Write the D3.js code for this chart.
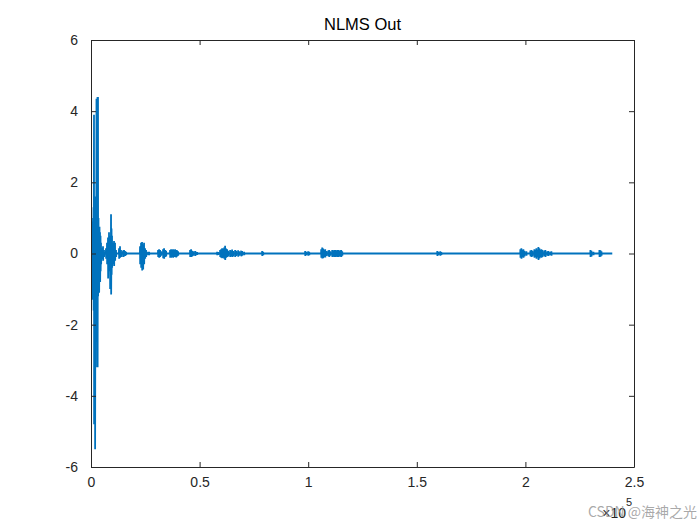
<!DOCTYPE html>
<html>
<head>
<meta charset="utf-8">
<script src="https://cdn.jsdelivr.net/npm/d3@7"></script>
<style>
  html, body { margin: 0; padding: 0; background: #ffffff; }
  svg { display: block; }
  text { font-family: "Liberation Sans", Arial, Helvetica, sans-serif; }
</style>
</head>
<body>
<svg id="chart" width="700" height="525"></svg>
<script>
// ---------------- data ----------------
const titleText = "NLMS Out";
const xTicks = [0, 50000, 100000, 150000, 200000, 250000];
const xTickLabels = ["0", "0.5", "1", "1.5", "2", "2.5"];
const yTicks = [-6, -4, -2, 0, 2, 4, 6];
const yTickLabels = ["-6", "-4", "-2", "0", "2", "4", "6"];
const signalLength = 240000;

// burst envelope samples: sample index, local max, local min
const spikeX = [
  230, 460, 690, 920, 1150, 1380, 1610, 1840, 2070, 2300, 2530, 2760, 2990, 3220, 3450, 3690, 3920, 4150, 4380, 4610, 5070, 5530, 5990,
  6910, 7370, 7830, 8290, 8750, 9220, 9450, 9680, 10140, 10600, 11060, 11520,
  12900, 13360, 13820, 14746, 15206, 15667, 16128,
  22579, 23040, 23501, 23962, 24422, 24883, 25344, 26266, 26726,
  30874, 31334, 31795, 32256, 33178, 33638, 34099, 34560,
  36403, 36864, 37325, 37786, 38246, 38707, 39168, 39629, 40090,
  45619, 46080, 46541, 47002, 47923, 48384, 48845,
  58061, 58522, 59443, 59904, 60365, 60826, 61286, 61747, 62208, 62669, 63130,
  64051, 64512, 64973, 65434, 66355, 66816, 67738, 68198, 69120, 69581, 70502,
  78797, 79258,
  98611, 99072, 99994, 100454,
  105984, 106445, 106906, 107366, 107827, 108288,
  109210, 109670, 110131, 111053, 111514, 111974, 112435, 112896, 113357, 113818, 114278, 114739, 115200, 115661,
  159437, 159898, 160819, 161280,
  197683, 198144, 198605, 199066, 199526, 200448,
  202291, 202752, 203213, 204134, 204595, 205056, 205517, 205978, 206438, 206899, 207360, 207821, 208742, 209203, 210125, 210586, 211507, 211968,
  229939, 230400, 231322, 234086, 234547, 235008
];
const spikeHi = [
  0.6, 0.9, 0.5, 1.0, 1.3, 3.9, 1.6, 1.5, 1.6, 1.6, 4.35, 1.5, 4.4, 4.4, 1.0, 0.7, 0.75, 0.6, 0.5, 0.3, 0.15, 0.2, 0.1,
  0.15, 0.3, 0.45, 0.6, 0.5, 1.1, 0.7, 0.5, 0.3, 0.35, 0.3, 0.1,
  0.15, 0.2, 0.1, 0.08, 0.1, 0.07, 0.05,
  0.2, 0.3, 0.32, 0.25, 0.3, 0.15, 0.1, 0.05, 0.05,
  0.1, 0.12, 0.1, 0.06, 0.12, 0.15, 0.1, 0.08,
  0.1, 0.12, 0.11, 0.12, 0.1, 0.12, 0.1, 0.09, 0.06,
  0.1, 0.12, 0.08, 0.06, 0.07, 0.05, 0.04,
  0.05, 0.04, 0.1, 0.12, 0.15, 0.13, 0.17, 0.22, 0.14, 0.12, 0.08,
  0.1, 0.08, 0.11, 0.07, 0.1, 0.08, 0.09, 0.06, 0.08, 0.07, 0.05,
  0.07, 0.05,
  0.07, 0.05, 0.06, 0.05,
  0.12, 0.17, 0.14, 0.1, 0.12, 0.07,
  0.08, 0.1, 0.06, 0.1, 0.08, 0.1, 0.1, 0.08, 0.1, 0.1, 0.08, 0.09, 0.1, 0.06,
  0.07, 0.05, 0.06, 0.04,
  0.12, 0.15, 0.1, 0.12, 0.08, 0.06,
  0.08, 0.1, 0.08, 0.12, 0.1, 0.15, 0.1, 0.18, 0.15, 0.1, 0.12, 0.1, 0.08, 0.1, 0.06, 0.07, 0.05, 0.06,
  0.1, 0.08, 0.05, 0.1, 0.09, 0.06
];
const spikeLo = [
  -0.5, -0.7, -1.3, -0.9, -1.6, -4.8, -2.7, -5.5, -1.6, -1.7, -1.6, -3.2, -3.2, -1.2, -1.0, -1.1, -0.6, -0.8, -0.5, -0.3, -0.15, -0.2, -0.1,
  -0.15, -0.3, -0.7, -0.5, -1.0, -1.15, -0.6, -0.4, -0.3, -0.35, -0.2, -0.1,
  -0.15, -0.12, -0.1, -0.1, -0.08, -0.07, -0.05,
  -0.3, -0.4, -0.48, -0.45, -0.3, -0.15, -0.1, -0.05, -0.05,
  -0.1, -0.12, -0.1, -0.06, -0.13, -0.15, -0.1, -0.08,
  -0.12, -0.12, -0.1, -0.12, -0.1, -0.1, -0.11, -0.08, -0.06,
  -0.1, -0.1, -0.08, -0.06, -0.07, -0.05, -0.04,
  -0.05, -0.04, -0.1, -0.12, -0.13, -0.12, -0.15, -0.18, -0.12, -0.1, -0.08,
  -0.1, -0.07, -0.1, -0.08, -0.1, -0.07, -0.09, -0.06, -0.08, -0.06, -0.05,
  -0.07, -0.05,
  -0.07, -0.05, -0.06, -0.05,
  -0.12, -0.14, -0.13, -0.1, -0.11, -0.07,
  -0.08, -0.1, -0.06, -0.1, -0.08, -0.1, -0.1, -0.08, -0.1, -0.1, -0.08, -0.09, -0.1, -0.06,
  -0.07, -0.05, -0.06, -0.04,
  -0.12, -0.15, -0.1, -0.12, -0.08, -0.06,
  -0.08, -0.1, -0.08, -0.12, -0.1, -0.15, -0.1, -0.18, -0.14, -0.1, -0.12, -0.1, -0.08, -0.1, -0.06, -0.07, -0.05, -0.06,
  -0.1, -0.08, -0.05, -0.1, -0.09, -0.06
];

// ---------------- layout ----------------
const W = 700, H = 525;
const margin = { left: 91, right: 66, top: 40, bottom: 58 };
const x0 = margin.left, x1 = W - margin.right;
const y0 = margin.top, y1 = H - margin.bottom;
const axisColor = "#262626";
const lineColor = "#0072BD";
const tickLen = 5;

const svg = d3.select("#chart");
svg.append("rect").attr("width", W).attr("height", H).attr("fill", "#ffffff");

const x = d3.scaleLinear().domain([0, 250000]).range([x0, x1]);
const y = d3.scaleLinear().domain([-6, 6]).range([y1, y0]);

// build waveform points: baseline between bursts, vertical excursions at spikes
const pts = [[0, 0]];
for (let i = 0; i < spikeX.length; i++) {
  const prev = i > 0 ? spikeX[i - 1] : 0;
  if (spikeX[i] - prev > 300) pts.push([spikeX[i] - 60, 0]);
  pts.push([spikeX[i], spikeHi[i]]);
  pts.push([spikeX[i] + 60, spikeLo[i]]);
  const next = i < spikeX.length - 1 ? spikeX[i + 1] : signalLength;
  if (next - spikeX[i] > 300) pts.push([spikeX[i] + 120, 0]);
}
pts.push([signalLength, 0]);

const clipId = "plotclip";
svg.append("clipPath").attr("id", clipId)
  .append("rect").attr("x", x0).attr("y", y0).attr("width", x1 - x0).attr("height", y1 - y0);

const line = d3.line().x(d => x(d[0])).y(d => y(d[1]));
svg.append("path")
  .datum(pts)
  .attr("d", line)
  .attr("fill", "none")
  .attr("stroke", lineColor)
  .attr("stroke-width", 1.8)
  .attr("stroke-linejoin", "miter")
  .attr("clip-path", `url(#${clipId})`);

// ---------------- axes (MATLAB box style, inward ticks) ----------------
const axB = d3.axisBottom(x).tickValues(xTicks).tickFormat((d, i) => xTickLabels[i])
  .tickSizeInner(-tickLen).tickSizeOuter(0).tickPadding(10);
const axT = d3.axisTop(x).tickValues(xTicks).tickFormat("")
  .tickSizeInner(-tickLen).tickSizeOuter(0);
const axL = d3.axisLeft(y).tickValues(yTicks).tickFormat((d, i) => yTickLabels[i])
  .tickSizeInner(-tickLen).tickSizeOuter(0).tickPadding(13);
const axR = d3.axisRight(y).tickValues(yTicks).tickFormat("")
  .tickSizeInner(-tickLen).tickSizeOuter(0);

function styleAxis(g) {
  g.selectAll("path.domain").attr("stroke", axisColor).attr("stroke-width", 1);
  g.selectAll(".tick line").attr("stroke", axisColor).attr("stroke-width", 1);
  g.selectAll(".tick text").attr("fill", axisColor)
    .style("font-family", '"Liberation Sans", Arial, Helvetica, sans-serif')
    .style("font-size", "14px");
}

svg.append("g").attr("transform", `translate(0,${y1})`).call(axB).call(styleAxis);
svg.append("g").attr("transform", `translate(0,${y0})`).call(axT).call(styleAxis);
svg.append("g").attr("transform", `translate(${x0},0)`).call(axL).call(styleAxis);
svg.append("g").attr("transform", `translate(${x1},0)`).call(axR).call(styleAxis);

// title
svg.append("text")
  .attr("x", (x0 + x1) / 2).attr("y", 30)
  .attr("text-anchor", "middle")
  .attr("fill", "#000000")
  .style("font-size", "16.5px")
  .text(titleText);

// exponent label
const expo = svg.append("text")
  .attr("x", 626).attr("y", 518)
  .attr("text-anchor", "end")
  .attr("fill", axisColor)
  .style("font-size", "14px");
expo.append("tspan").text("\u00d710");
svg.append("text")
  .attr("x", 626).attr("y", 506)
  .attr("fill", axisColor)
  .style("font-size", "11px")
  .text("5");

// watermark
svg.append("text")
  .attr("x", 588).attr("y", 517)
  .attr("fill", "#9a9a9a")
  .attr("fill-opacity", 0.85)
  .style("font-family", '"Noto Sans CJK SC", "Liberation Sans", sans-serif')
  .style("font-size", "14px")
  .text("CSDN @海神之光");
</script>
</body>
</html>
